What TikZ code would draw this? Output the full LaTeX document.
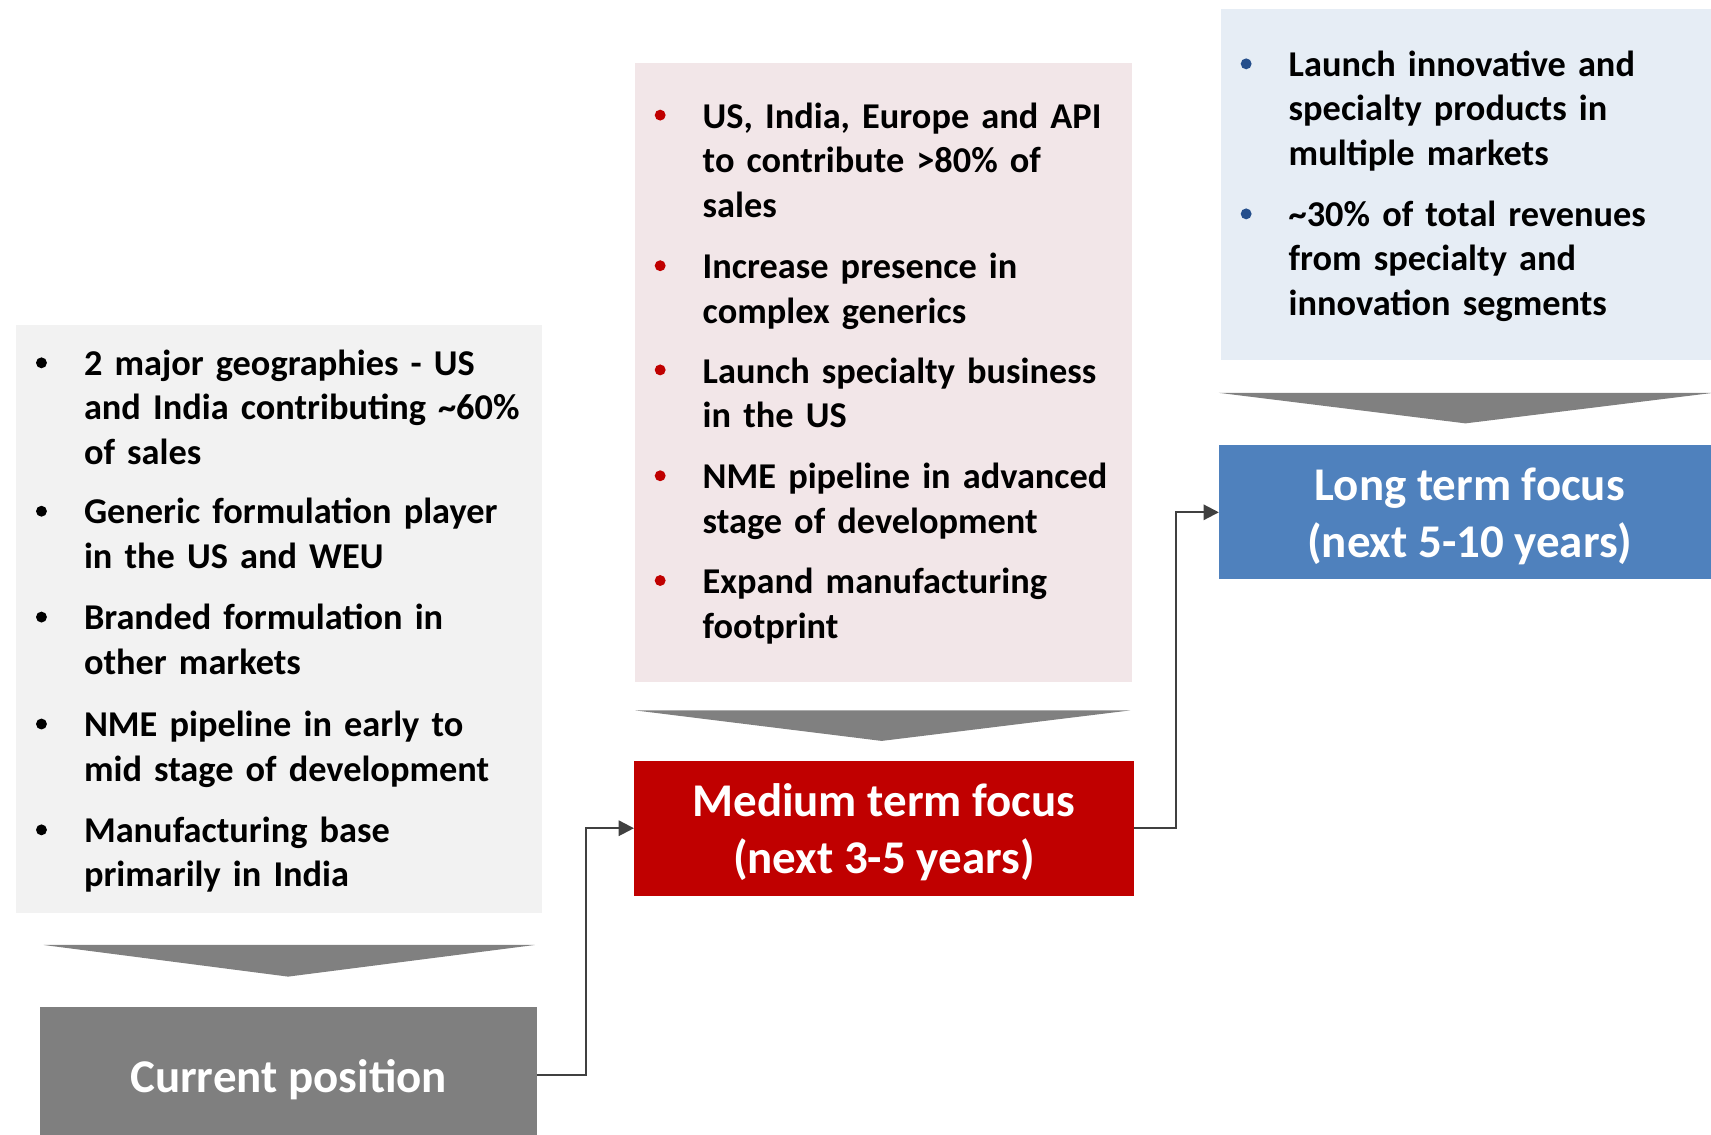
\documentclass[tikz,border=0pt]{standalone}
\usepackage{fontspec}
\setmainfont{Carlito}[WordSpace=0.75]
\newfontfamily\headfont{Carlito}
\usetikzlibrary{arrows.meta}
\definecolor{lgrey}{HTML}{F2F2F2}
\definecolor{pinkbg}{HTML}{F2E6E8}
\definecolor{bluebg}{HTML}{E6EDF5}
\definecolor{chevgrey}{HTML}{808080}
\definecolor{curgrey}{HTML}{7F7F7F}
\definecolor{medred}{HTML}{C00000}
\definecolor{longblue}{HTML}{4F81BD}
\definecolor{bluedot}{HTML}{254F8C}
\definecolor{linegrey}{HTML}{404040}
\tikzset{
  panel/.style={draw=none, inner sep=0pt, outer sep=0pt, anchor=north west},
  item/.style={anchor=base west, inner sep=0pt, outer sep=0pt, text width=480pt, align=left,
    font=\fontsize{33.3}{40.8}\selectfont\bfseries},
  headbox/.style={inner sep=0pt, outer sep=0pt, anchor=north west},
  headtext/.style={inner sep=0pt, text=white, align=center,
    font=\headfont\fontsize{43}{52}\selectfont\bfseries},
  chev/.style={fill=chevgrey},
  conn/.style={draw=linegrey, line width=2pt, -{Triangle[length=14pt,width=14pt]}},
}
\begin{document}
\begin{tikzpicture}[x=1pt,y=-1pt]
\useasboundingbox (0,0) rectangle (1568,1040);
\clip (0,0) rectangle (1568,1040);
% panels
\node[panel, fill=lgrey, minimum width=482pt, minimum height=539pt] (curpanel) at (15,298) {};
\node[panel, fill=pinkbg, minimum width=455pt, minimum height=567pt] (medpanel) at (582,58) {};
\node[panel, fill=bluebg, minimum width=470pt, minimum height=322pt] (longpanel) at (1119,8) {};
% chevrons
\fill[chev] (40,866) -- (490,866) -- (264,895) -- cycle;
\fill[chev] (582,651) -- (1036,651) -- (808,679) -- cycle;
\fill[chev] (1117,360) -- (1570,360) -- (1343,388) -- cycle;
% header boxes
\node[headbox, fill=curgrey, minimum width=455pt, minimum height=124pt] (cur) at (37,923) {};
\node[headbox, fill=medred, minimum width=458pt, minimum height=124pt] (med) at (581,697) {};
\node[headbox, fill=longblue, minimum width=460pt, minimum height=123pt] (long) at (1117,408) {};
\node[headtext] (curtext) at ([yshift=-4pt]cur.center) {Current position};
\node[headtext] (medtext) at ([yshift=-4pt]med.center) {Medium term focus\\(next 3-5 years)};
\node[headtext] (longtext) at ([yshift=-4pt]long.center) {Long term focus\\(next 5-10 years)};
% connectors
\draw[conn] (cur.east) -- ++(45,0) |- (med.west);
\draw[conn] (med.east) -- ++(39,0) |- (long.west);
% left items
\foreach \b in {344,480,577,675,772} \fill[black] (38,\b-11.5) circle (5pt);
\node[item] (l1) at (77,344) {2 major geographies - US\\and India contributing \textasciitilde60\%\\of sales};
\node[item] (l2) at (77,480) {Generic formulation player\\in the US and WEU};
\node[item] (l3) at (77,577) {Branded formulation in\\other markets};
\node[item] (l4) at (77,675) {NME pipeline in early to\\mid stage of development};
\node[item] (l5) at (77,772) {Manufacturing base\\primarily in India};
% middle items
\foreach \b in {117.5,255.5,351,448,544} \fill[medred] (605,\b-12) circle (5pt);
\node[item] (m1) at (644,117.5) {US, India, Europe and API\\to contribute >80\% of\\sales};
\node[item] (m2) at (644,255.5) {Increase presence in\\complex generics};
\node[item] (m3) at (644,351) {Launch specialty business\\in the US};
\node[item] (m4) at (644,448) {NME pipeline in advanced\\stage of development};
\node[item] (m5) at (644,544) {Expand manufacturing\\footprint};
% right items
\foreach \b in {70,207.5} \fill[bluedot] (1142,\b-11.5) circle (5pt);
\node[item] (r1) at (1181,70) {Launch innovative and\\specialty products in\\multiple markets};
\node[item] (r2) at (1181,207.5) {\textasciitilde30\% of total revenues\\from specialty and\\innovation segments};
\end{tikzpicture}
\end{document}
